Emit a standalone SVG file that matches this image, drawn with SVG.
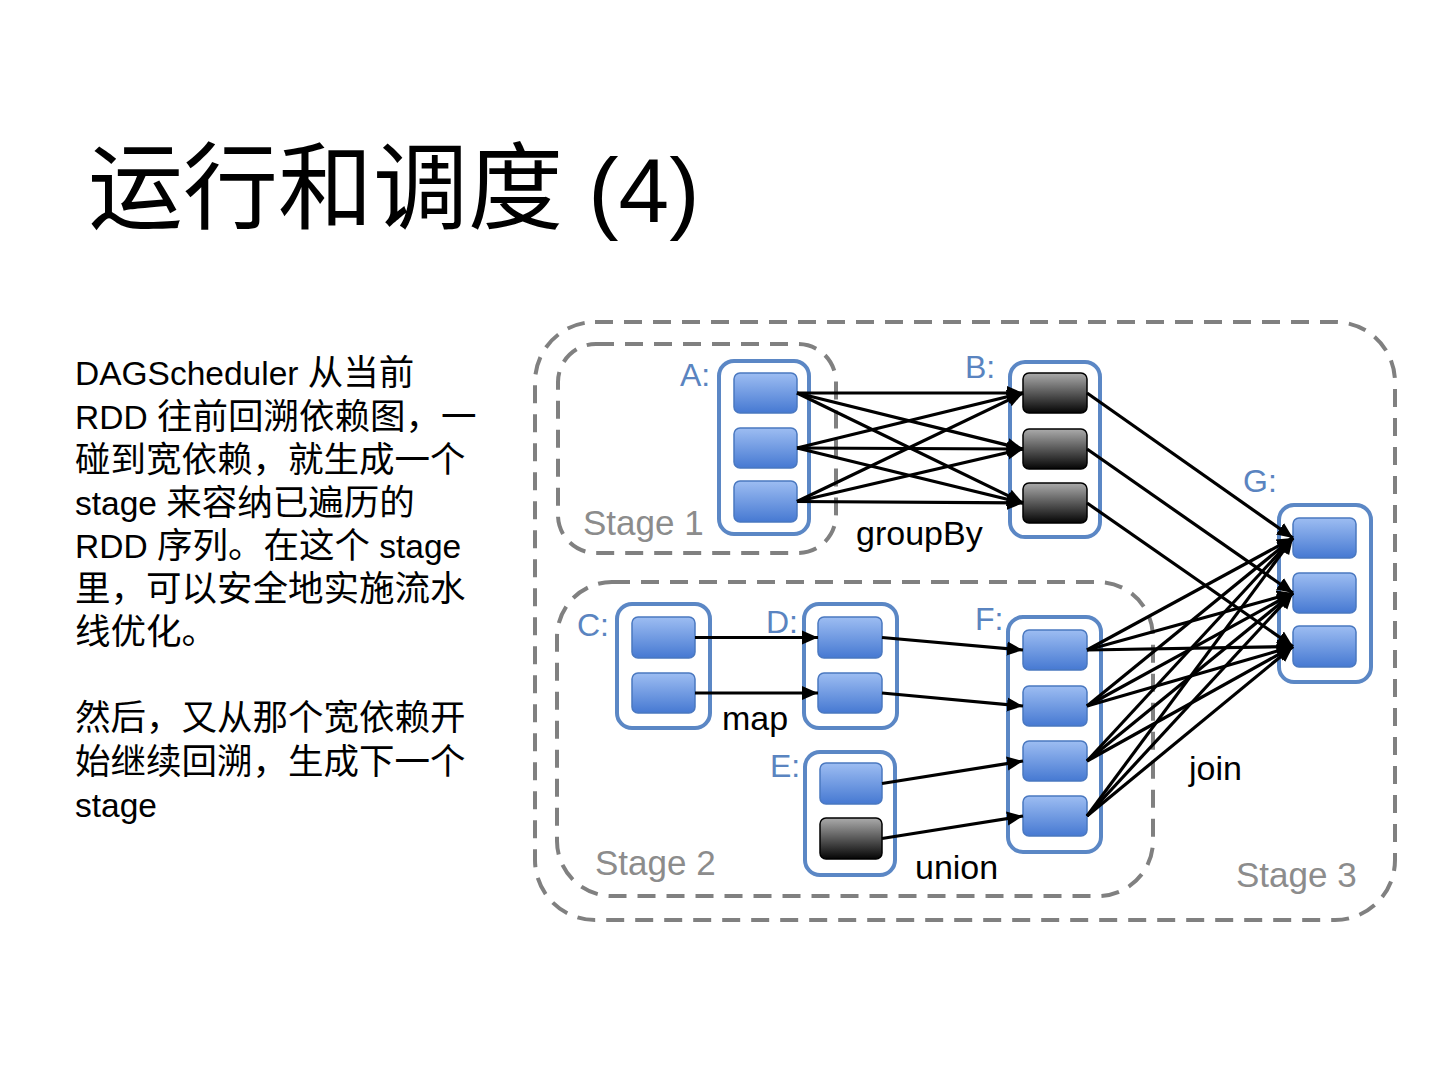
<svg xmlns="http://www.w3.org/2000/svg" width="1440" height="1080" viewBox="0 0 1440 1080">
<defs>
<linearGradient id="gb" x1="0" y1="0" x2="0" y2="1">
<stop offset="0" stop-color="#9DBDF2"/>
<stop offset="1" stop-color="#4679D2"/>
</linearGradient>
<linearGradient id="gk" x1="0" y1="0" x2="0" y2="1">
<stop offset="0" stop-color="#ABABAB"/>
<stop offset="1" stop-color="#050505"/>
</linearGradient>
<marker id="ah" markerUnits="userSpaceOnUse" markerWidth="18" markerHeight="16" refX="16" refY="8" orient="auto">
<path d="M0,1 L16,8 L0,15 Z" fill="#000"/>
</marker>
<style>
.stage{fill:none;stroke:#808080;stroke-width:4;stroke-dasharray:18 11}
.rdd{fill:#fff;stroke:#5B87C5;stroke-width:4}
.pb{fill:url(#gb);stroke:#4A78C0;stroke-width:1.5}
.pk{fill:url(#gk);stroke:#000;stroke-width:1.5}
.lbl{font-family:"Liberation Sans","Noto Sans CJK SC",sans-serif;font-size:32px;fill:#5A84C0}
.op{font-family:"Liberation Sans","Noto Sans CJK SC",sans-serif;font-size:34px;fill:#000}
.st{font-family:"Liberation Sans","Noto Sans CJK SC",sans-serif;font-size:35px;fill:#8C8C8C}
.body{font-family:"Liberation Sans","Noto Sans CJK SC",sans-serif;font-size:35.5px;fill:#000}
.lt{font-size:33.5px}
#edges line{stroke:#000;stroke-width:3.2;marker-end:url(#ah)}
</style>
</defs>
<rect width="1440" height="1080" fill="#fff"/>
<g id="title">
<text x="88" y="222" font-family="'Noto Sans CJK SC','Liberation Sans',sans-serif" font-size="95" fill="#000">运行和调度<tspan font-family="'Liberation Sans',sans-serif" font-size="91"> (4)</tspan></text>
</g>
<g id="description" class="body">
<text x="75" y="385"><tspan class="lt">DAGScheduler </tspan>从当前</text>
<text x="75" y="428.5"><tspan class="lt">RDD </tspan>往前回溯依赖图，一</text>
<text x="75" y="471.5">碰到宽依赖，就生成一个</text>
<text x="75" y="514.5"><tspan class="lt">stage </tspan>来容纳已遍历的</text>
<text x="75" y="557.5"><tspan class="lt">RDD </tspan>序列。在这个<tspan class="lt"> stage</tspan></text>
<text x="75" y="601">里，可以安全地实施流水</text>
<text x="75" y="644">线优化。</text>
<text x="75" y="730">然后，又从那个宽依赖开</text>
<text x="75" y="774">始继续回溯，生成下一个</text>
<text x="75" y="817"><tspan class="lt">stage</tspan></text>
</g>
<g id="stage3">
<rect class="stage" x="535" y="322" width="860" height="598" rx="60"/>
<text class="st" x="1236" y="887">Stage 3</text>
</g>
<g id="stage1">
<rect class="stage" x="558" y="344" width="278" height="209" rx="38"/>
<text class="st" x="583" y="535">Stage 1</text>
</g>
<g id="stage2">
<rect class="stage" x="557" y="582" width="596" height="314" rx="55"/>
<text class="st" x="595" y="875">Stage 2</text>
</g>
<g id="rddA">
<rect class="rdd" x="719" y="361" width="90" height="173" rx="15"/>
<rect class="pb" x="734" y="373" width="63" height="40" rx="6"/>
<rect class="pb" x="734" y="428" width="63" height="40" rx="6"/>
<rect class="pb" x="734" y="481" width="63" height="41" rx="6"/>
<text class="lbl" x="680" y="386">A:</text>
</g>
<g id="rddB">
<rect class="rdd" x="1010" y="362" width="90" height="175" rx="15"/>
<rect class="pk" x="1023" y="373" width="64" height="40" rx="6"/>
<rect class="pk" x="1023" y="429" width="64" height="40" rx="6"/>
<rect class="pk" x="1023" y="483" width="64" height="40" rx="6"/>
<text class="lbl" x="965" y="378">B:</text>
</g>
<g id="rddC">
<rect class="rdd" x="617" y="604" width="93" height="124" rx="15"/>
<rect class="pb" x="632" y="617" width="63" height="41" rx="6"/>
<rect class="pb" x="632" y="673" width="63" height="40" rx="6"/>
<text class="lbl" x="577" y="636">C:</text>
</g>
<g id="rddD">
<rect class="rdd" x="804" y="604" width="93" height="124" rx="15"/>
<rect class="pb" x="818" y="617" width="64" height="41" rx="6"/>
<rect class="pb" x="818" y="673" width="64" height="40" rx="6"/>
<text class="lbl" x="766" y="633">D:</text>
</g>
<g id="rddE">
<rect class="rdd" x="805" y="752" width="90" height="123" rx="15"/>
<rect class="pb" x="820" y="763" width="62" height="41" rx="6"/>
<rect class="pk" x="820" y="818" width="62" height="41" rx="6"/>
<text class="lbl" x="770" y="777">E:</text>
</g>
<g id="rddF">
<rect class="rdd" x="1008" y="617" width="93" height="235" rx="15"/>
<rect class="pb" x="1023" y="630" width="64" height="40" rx="6"/>
<rect class="pb" x="1023" y="686" width="64" height="40" rx="6"/>
<rect class="pb" x="1023" y="741" width="64" height="40" rx="6"/>
<rect class="pb" x="1023" y="796" width="64" height="40" rx="6"/>
<text class="lbl" x="975" y="630">F:</text>
</g>
<g id="rddG">
<rect class="rdd" x="1279" y="505" width="92" height="177" rx="15"/>
<rect class="pb" x="1293" y="518" width="63" height="40" rx="6"/>
<rect class="pb" x="1293" y="573" width="63" height="40" rx="6"/>
<rect class="pb" x="1293" y="626" width="63" height="41" rx="6"/>
<text class="lbl" x="1243" y="492">G:</text>
</g>
<g id="edges">
<line x1="797" y1="393" x2="1023" y2="393"/>
<line x1="797" y1="393" x2="1023" y2="449"/>
<line x1="797" y1="393" x2="1023" y2="503"/>
<line x1="797" y1="448" x2="1023" y2="393"/>
<line x1="797" y1="448" x2="1023" y2="449"/>
<line x1="797" y1="448" x2="1023" y2="503"/>
<line x1="797" y1="501.5" x2="1023" y2="393"/>
<line x1="797" y1="501.5" x2="1023" y2="449"/>
<line x1="797" y1="501.5" x2="1023" y2="503"/>
<line x1="1087" y1="393" x2="1293" y2="538"/>
<line x1="1087" y1="449" x2="1293" y2="593"/>
<line x1="1087" y1="503" x2="1293" y2="646.5"/>
<line x1="1087" y1="650" x2="1293" y2="538"/>
<line x1="1087" y1="650" x2="1293" y2="593"/>
<line x1="1087" y1="650" x2="1293" y2="646.5"/>
<line x1="1087" y1="706" x2="1293" y2="538"/>
<line x1="1087" y1="706" x2="1293" y2="593"/>
<line x1="1087" y1="706" x2="1293" y2="646.5"/>
<line x1="1087" y1="761" x2="1293" y2="538"/>
<line x1="1087" y1="761" x2="1293" y2="593"/>
<line x1="1087" y1="761" x2="1293" y2="646.5"/>
<line x1="1087" y1="816" x2="1293" y2="538"/>
<line x1="1087" y1="816" x2="1293" y2="593"/>
<line x1="1087" y1="816" x2="1293" y2="646.5"/>
<line x1="695" y1="637.5" x2="818" y2="637.5"/>
<line x1="695" y1="693" x2="818" y2="693"/>
<line x1="882" y1="637.5" x2="1023" y2="650"/>
<line x1="882" y1="693" x2="1023" y2="706"/>
<line x1="882" y1="783.5" x2="1023" y2="761"/>
<line x1="882" y1="838.5" x2="1023" y2="816"/>
</g>
<g id="op-labels">
<text class="op" x="856" y="545">groupBy</text>
<text class="op" x="722" y="730">map</text>
<text class="op" x="915" y="879">union</text>
<text class="op" x="1189" y="780">join</text>
</g>
</svg>
